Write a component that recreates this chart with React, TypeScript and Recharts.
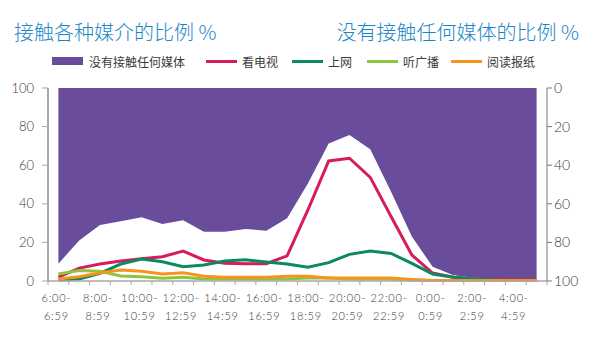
import React from 'react';
import { ComposedChart, Area, Line, XAxis, YAxis } from 'recharts';

// hour slots, 6:00 through 5:00 next day
const hours = [
  '6:00-6:59', '7:00-7:59', '8:00-8:59', '9:00-9:59', '10:00-10:59', '11:00-11:59',
  '12:00-12:59', '13:00-13:59', '14:00-14:59', '15:00-15:59', '16:00-16:59', '17:00-17:59',
  '18:00-18:59', '19:00-19:59', '20:00-20:59', '21:00-21:59', '22:00-22:59', '23:00-23:59',
  '0:00-0:59', '1:00-1:59', '2:00-2:59', '3:00-3:59', '4:00-4:59', '5:00-5:59'
];

// right axis (reversed): share with no media contact
const noMedia = [91, 79, 71, 69, 67, 70.5, 68.5, 74.5, 74.5, 73, 74, 67.5, 49.5, 28.7, 24.4, 31.8, 53.7, 77, 92.6, 97, 98.3, 99, 99.5, 99.5];
// left axis values
const tv = [2, 6.7, 8.8, 10.4, 11.5, 12.6, 15.5, 10.9, 9.2, 9, 9, 13, 36.8, 62.2, 63.6, 53.7, 33.4, 13.5, 4.1, 2, 1, 0.5, 0.5, 0.5];
const internet = [0.5, 1, 4, 8.8, 11.4, 10, 7.4, 8.3, 10.4, 11, 9.8, 8.8, 7.1, 9.5, 13.8, 15.5, 14.3, 9.1, 3.6, 2, 1, 0.5, 0.3, 0.3];
const radio = [3.6, 5.4, 5, 2.6, 2.2, 1.4, 2, 1, 1, 1, 1, 1, 1.5, 1.5, 1, 1, 1, 0.5, 0.3, 0.3, 0.3, 0.3, 0.3, 0.3];
const newspaper = [1, 2.2, 4.3, 5.7, 5, 3.6, 4.3, 2.5, 2, 2, 2, 2.5, 2.5, 1.5, 1.5, 1.5, 1.5, 0.8, 0.3, 0.3, 0.3, 0.3, 0.3, 0.3];

const yTicks = [0, 20, 40, 60, 80, 100];

const COLORS = {
  noMedia: '#6a4c9c',
  tv: '#d81b60',
  internet: '#0a8a5f',
  radio: '#8cc63f',
  newspaper: '#f7941d',
  title: '#1b86c6',
  axis: '#a8a8a8',
  text: '#3a3a3a'
};

const data = hours.map((h, i) => ({
  hour: h,
  noMedia: noMedia[i],
  tv: tv[i],
  internet: internet[i],
  radio: radio[i],
  newspaper: newspaper[i]
}));

const PLOT_LEFT = 48;
const PLOT_RIGHT = 547;
const BAND = (PLOT_RIGHT - PLOT_LEFT) / hours.length;

const legendItems = [
  { name: '没有接触任何媒体', color: COLORS.noMedia, left: 52, box: true },
  { name: '看电视', color: COLORS.tv, left: 206 },
  { name: '上网', color: COLORS.internet, left: 292 },
  { name: '听广播', color: COLORS.radio, left: 367 },
  { name: '阅读报纸', color: COLORS.newspaper, left: 451 }
];

// two-line hour label, shown every 2 hours; tick marks on band edges
const HourTick = ({ x, y, payload, index }: any) => {
  const [start, end] = String(payload.value).split('-');
  const edge = x - BAND / 2;
  return (
    <g>
      <line x1={edge} x2={edge} y1={y} y2={y + 4} stroke={COLORS.axis} />
      {index === hours.length - 1 && (
        <line x1={x + BAND / 2} x2={x + BAND / 2} y1={y} y2={y + 4} stroke={COLORS.axis} />
      )}
      {index % 2 === 0 && (
        <text x={x - 2} y={y} textAnchor="middle" fill={COLORS.text} fontSize={11} fontWeight={300} letterSpacing={0.8} fontFamily="Lato, sans-serif">
          <tspan x={x - 2} dy={21}>{start}-</tspan>
          <tspan x={x - 2} dy={18}>{end}</tspan>
        </text>
      )}
    </g>
  );
};

export default function App() {
  return (
    <div style={{ position: 'relative', width: 600, height: 362, margin: -8, background: '#fff', fontFamily: '"Noto Sans CJK SC", sans-serif' }}>
      <div style={{ position: 'absolute', left: 14, top: 19, fontSize: 20, color: COLORS.title, fontWeight: 300, lineHeight: '26px', whiteSpace: 'nowrap' }}>
        接触各种媒介的比例 %
      </div>
      <div style={{ position: 'absolute', right: 21, top: 19, fontSize: 20, color: COLORS.title, fontWeight: 300, lineHeight: '26px', whiteSpace: 'nowrap' }}>
        没有接触任何媒体的比例 %
      </div>
      {legendItems.map((it) => (
        <div key={it.name} style={{ position: 'absolute', left: it.left, top: 52, height: 18, display: 'flex', alignItems: 'center', fontSize: 12, color: COLORS.text, whiteSpace: 'nowrap' }}>
          <span style={{ display: 'inline-block', width: 31, height: it.box ? 8 : 3, background: it.color, marginRight: it.box ? 6 : 5 }} />
          {it.name}
        </div>
      ))}
      <div style={{ position: 'absolute', left: 0, top: 0 }}>
        <ComposedChart width={600} height={362} data={data} margin={{ top: 88, right: 0, bottom: 0, left: 0 }}>
          <XAxis
            dataKey="hour"
            scale="band"
            interval={0}
            height={81}
            tickSize={0}
            tickMargin={0}
            tickLine={false}
            axisLine={{ stroke: COLORS.axis, strokeWidth: 1.5 }}
            tick={<HourTick />}
          />
          <YAxis
            yAxisId="left"
            domain={[0, 100]}
            ticks={yTicks}
            width={48}
            tickSize={6}
            tickMargin={8}
            axisLine={{ stroke: COLORS.axis, strokeWidth: 2 }}
            tickLine={{ stroke: COLORS.axis }}
            tick={{ fill: COLORS.text, fontSize: 13, fontWeight: 300, fontFamily: 'Lato, sans-serif' }}
          />
          <YAxis
            yAxisId="right"
            orientation="right"
            reversed
            domain={[0, 100]}
            ticks={yTicks}
            width={53}
            tickSize={5}
            axisLine={{ stroke: '#777', strokeWidth: 1 }}
            tickLine={{ stroke: '#777' }}
            tick={{ fill: COLORS.text, fontSize: 14, fontWeight: 300, fontFamily: 'Lato, sans-serif' }}
          />
          <Area
            yAxisId="right"
            type="linear"
            dataKey="noMedia"
            baseValue={0}
            fill={COLORS.noMedia}
            fillOpacity={1}
            stroke="none"
            isAnimationActive={false}
          />
          <Line yAxisId="left" type="linear" dataKey="tv" stroke={COLORS.tv} strokeWidth={3} dot={false} isAnimationActive={false} />
          <Line yAxisId="left" type="linear" dataKey="internet" stroke={COLORS.internet} strokeWidth={3} dot={false} isAnimationActive={false} />
          <Line yAxisId="left" type="linear" dataKey="radio" stroke={COLORS.radio} strokeWidth={3} dot={false} isAnimationActive={false} />
          <Line yAxisId="left" type="linear" dataKey="newspaper" stroke={COLORS.newspaper} strokeWidth={3} dot={false} isAnimationActive={false} />
        </ComposedChart>
      </div>
      <div style={{ position: 'absolute', inset: 0, border: '2px solid #d2d2d2', pointerEvents: 'none' }} />
    </div>
  );
}
